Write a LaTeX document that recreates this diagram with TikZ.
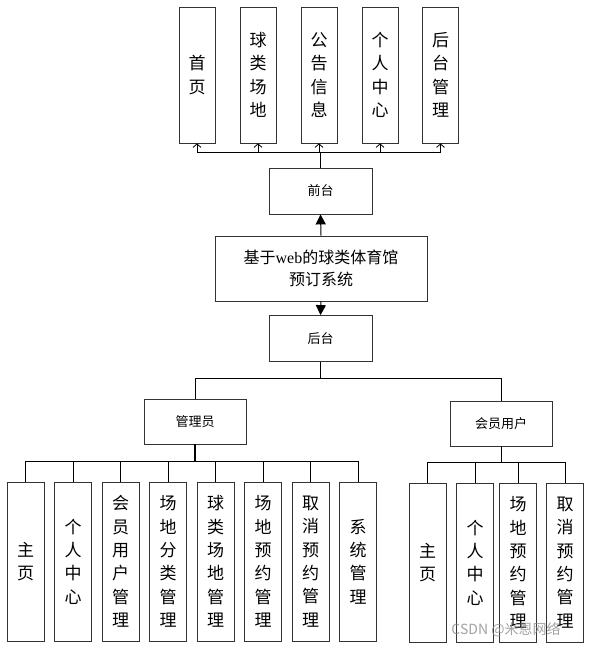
\documentclass[tikz,border=0pt]{standalone}
\usepackage{fontspec}
\setmainfont{Noto Sans CJK SC}
\newfontfamily\latinserif{Liberation Serif}
\usetikzlibrary{arrows.meta}
\begin{document}
\begin{tikzpicture}[x=1pt,y=-1pt,
  box/.style={draw=black!80, line width=0.8pt, fill=white, inner sep=0pt, align=center},
  vbox/.style={box, minimum width=36pt, minimum height=136pt, font=\fontsize{17}{23.5}\selectfont},
  lbox/.style={box, minimum width=37pt, minimum height=159pt, font=\fontsize{17}{23.3}\selectfont},
  sbox/.style={box, minimum width=103pt, minimum height=46pt, font=\fontsize{13}{15}\selectfont},
  conn/.style={draw=black, line width=0.8pt},
  openarr/.style={conn, -{Straight Barb[length=3.5pt,width=8pt]}},
  fillarr/.style={conn, line width=1pt, -{Triangle[length=10pt,width=10pt]}}
]
\useasboundingbox (0,0) rectangle (594,648);

% top row
\node[vbox] (t1) at (197,75) {首\\页};
\node[vbox] (t2) at (258,75) {球\\类\\场\\地};
\node[vbox] (t3) at (319,75) {公\\告\\信\\息};
\node[vbox] (t4) at (380,75) {个\\人\\中\\心};
\node[vbox] (t5) at (440.5,75) {后\\台\\管\\理};

\node[sbox] (front) at (320.5,191) {前台};
\node[box, minimum width=212pt, minimum height=65pt, font=\fontsize{16}{22}\selectfont] (sys) at (321,268.5) {基于{\latinserif web}的球类体育馆\\预订系统};
\node[sbox] (back) at (320.5,338.5) {后台};

\node[sbox, minimum width=102pt, minimum height=45pt] (adm) at (195,421.5) {管理员};
\node[sbox, minimum width=102pt, minimum height=45pt] (mem) at (501,423.5) {会员用户};

% admin children
\node[lbox] (a1) at (25.5,561.5) {主\\页};
\node[lbox] (a2) at (73,561.5) {个\\人\\中\\心};
\node[lbox] (a3) at (120.5,561.5) {会\\员\\用\\户\\管\\理};
\node[lbox] (a4) at (168,561.5) {场\\地\\分\\类\\管\\理};
\node[lbox] (a5) at (215.5,561.5) {球\\类\\场\\地\\管\\理};
\node[lbox] (a6) at (263,561.5) {场\\地\\预\\约\\管\\理};
\node[lbox] (a7) at (310.5,561.5) {取\\消\\预\\约\\管\\理};
\node[lbox] (a8) at (358,561.5) {系\\统\\管\\理};

% member children
\node[lbox] (m1) at (427.5,562.5) {主\\页};
\node[lbox] (m2) at (475,562.5) {个\\人\\中\\心};
\node[lbox] (m3) at (518,562.5) {场\\地\\预\\约\\管\\理};
\node[lbox] (m4) at (565,562.5) {取\\消\\预\\约\\管\\理};

% top connectors
\coordinate (tbar) at (320.5,152);
\draw[conn] (front.north) -- (tbar);
\draw[conn] (t1.south |- tbar) -- (t5.south |- tbar);
\foreach \n in {t1,t2,t3,t4,t5} {
  \draw[openarr] (\n.south |- tbar) -- (\n.south);
}

% system arrows
\draw[fillarr] (sys.north) -- (front.south);
\draw[fillarr] (sys.south) -- (back.north);

% back to roles
\coordinate (mbar) at (320.5,378);
\draw[conn] (back.south) -- (mbar);
\draw[conn] (adm.north) -- (adm.north |- mbar) -- (mem.north |- mbar) -- (mem.north);

% admin bar
\coordinate (abar) at (195,461);
\draw[conn, line width=1.3pt] (adm.south) -- (abar);
\draw[conn] (a1.north |- abar) -- (a8.north |- abar);
\foreach \n in {a1,a2,a3,a4,a5,a6,a7,a8} {
  \draw[conn] (\n.north |- abar) -- (\n.north);
}

% member bar
\coordinate (mbar2) at (501,462);
\draw[conn] (mem.south) -- (mbar2);
\draw[conn] (m1.north |- mbar2) -- (m4.north |- mbar2);
\foreach \n in {m1,m2,m3,m4} {
  \draw[conn] (\n.north |- mbar2) -- (\n.north);
}

% watermark
\node[text=black!45, opacity=0.8, font=\fontsize{14}{16}\selectfont] (wm) at (506,630) {CSDN @米恩网络};
\end{tikzpicture}
\end{document}
